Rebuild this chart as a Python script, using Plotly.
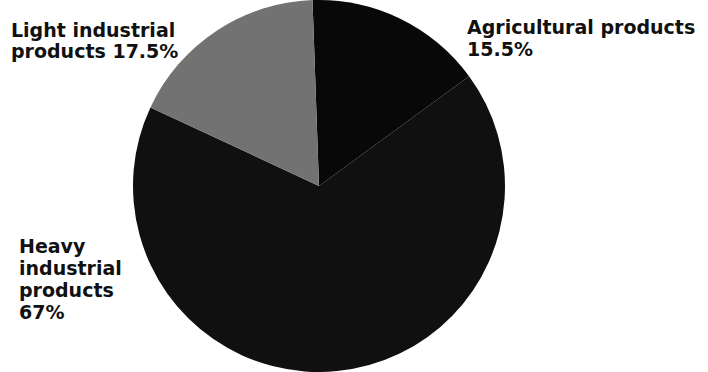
import plotly.graph_objects as go

# Share of output by product group (%)
categories = ["Agricultural products", "Heavy industrial products", "Light industrial products"]
shares = [15.5, 67, 17.5]
slice_colors = ["#080808", "#101010", "#727272"]

# Label lines placed beside the pie
label_lines = {
    "Light industrial products": ["Light industrial", "products 17.5%"],
    "Agricultural products": ["Agricultural products", "15.5%"],
    "Heavy industrial products": ["Heavy", "industrial", "products", "67%"],
}

W, H = 708, 372
cx = 319

fig = go.Figure(
    go.Pie(
        labels=categories,
        values=shares,
        sort=False,
        direction="clockwise",
        rotation=-2,
        textinfo="none",
        hoverinfo="label+percent",
        marker=dict(colors=slice_colors, line=dict(width=0)),
        domain=dict(x=[(cx - 200) / W, (cx + 200) / W], y=[0, 1]),
        showlegend=False,
    )
)

font = dict(family="DejaVu Sans", size=19, color="#111111", weight="bold")
line_step = 22


def add_block(lines, x, first_baseline):
    for i, text in enumerate(lines):
        baseline = first_baseline + i * line_step
        fig.add_annotation(
            text=text, xref="paper", yref="paper",
            x=x / W, y=1 - baseline / H,
            xanchor="left", yanchor="bottom", yshift=-5,
            borderpad=0, showarrow=False, font=font,
        )


add_block(label_lines["Light industrial products"], 10, 36.5)
add_block(label_lines["Agricultural products"], 466, 34)
add_block(label_lines["Heavy industrial products"], 18, 253)

fig.update_layout(
    width=W, height=H,
    margin=dict(l=0, r=0, t=0, b=0),
    paper_bgcolor="white",
    plot_bgcolor="white",
)

fig.write_html("out.html")
